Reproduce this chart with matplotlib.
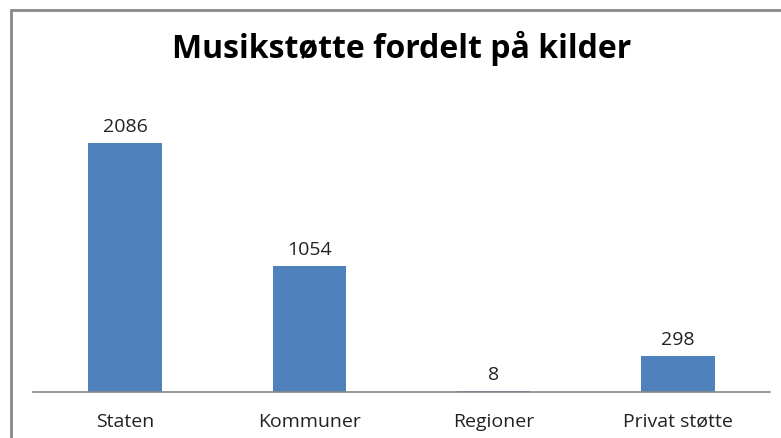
import matplotlib
matplotlib.use("Agg")
import matplotlib.pyplot as plt
from matplotlib.patches import Rectangle

# data
categories = ["Staten", "Kommuner", "Regioner", "Privat støtte"]
values = [2086, 1054, 8, 298]

BAR_COLOR = "#4f81bd"
TEXT_COLOR = "#222222"

fig = plt.figure(figsize=(7.81, 4.38), dpi=100)
ax = fig.add_axes([33 / 781, 1 - 392 / 438, (770 - 33) / 781, (392 - 93) / 438])

x = range(len(categories))
bars = ax.bar(x, values, width=0.4, color=BAR_COLOR)
ax.set_xlim(-0.5, len(categories) - 0.5)
ax.set_ylim(0, 2500)

for b, v in zip(bars, values):
    ax.text(b.get_x() + b.get_width() / 2, v + 92, str(v),
            ha="center", va="baseline", fontsize=14, family="Open Sans", color=TEXT_COLOR)

ax.set_xticks(list(x))
ax.set_xticklabels(categories, fontsize=14, family="Open Sans", color=TEXT_COLOR)
ax.tick_params(axis="x", length=0, pad=15)
ax.set_yticks([])
for s in ["left", "right", "top"]:
    ax.spines[s].set_visible(False)
ax.spines["bottom"].set_color("#888888")
ax.spines["bottom"].set_linewidth(1.2)

fig.text(402 / 781, 1 - 58 / 438, "Musikstøtte fordelt på kilder",
         ha="center", va="baseline", fontsize=23, fontweight="bold", family="Open Sans")

# outer frame (runs off the right and bottom edges)
fig.patches.append(Rectangle((11 / 781, -0.05), 1.0, 1 - 10 / 438 + 0.05,
                             transform=fig.transFigure, fill=False,
                             edgecolor="#888888", linewidth=2))

fig.savefig("out.png", dpi=100)
